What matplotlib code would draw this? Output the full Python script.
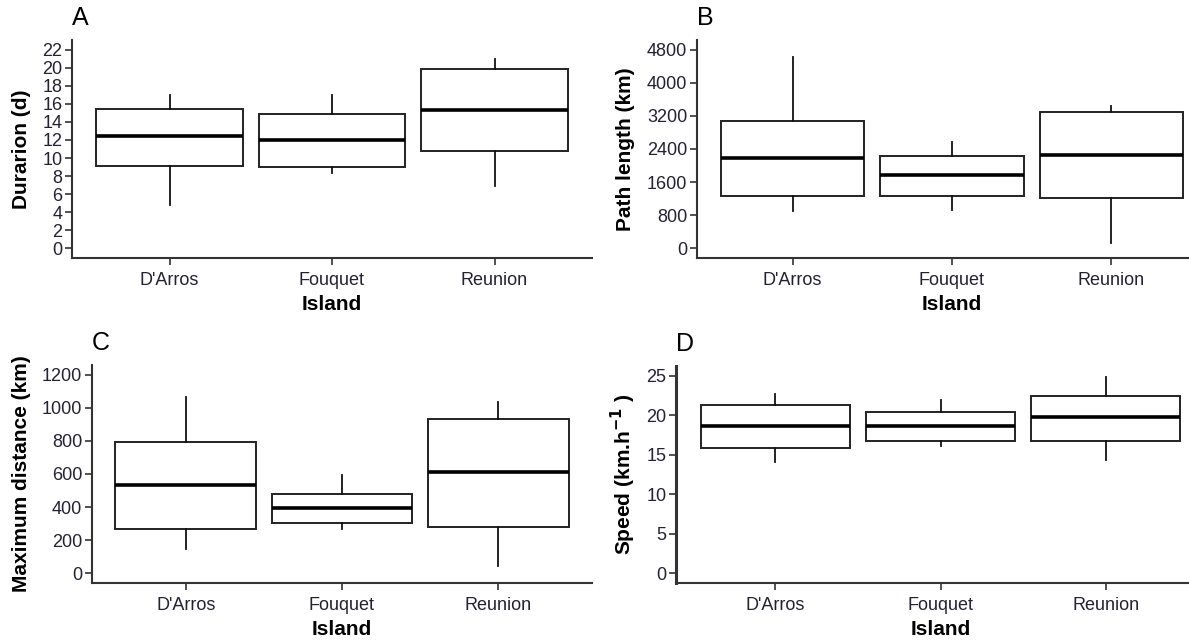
import matplotlib
matplotlib.use("Agg")
import matplotlib.pyplot as plt

islands = ["D'Arros", "Fouquet", "Reunion"]

# box stats per island: lower whisker, q1, median, q3, upper whisker
dur_lo = [4.75, 8.3, 6.85]
dur_q1 = [9.15, 9.0, 10.75]
dur_med = [12.45, 11.95, 15.35]
dur_q3 = [15.4, 14.85, 19.85]
dur_hi = [17.0, 17.0, 21.0]

path_lo = [890, 920, 130]
path_q1 = [1260, 1250, 1220]
path_med = [2190, 1765, 2255]
path_q3 = [3090, 2240, 3285]
path_hi = [4625, 2560, 3430]

dist_lo = [145, 268, 40]
dist_q1 = [266, 303, 282]
dist_med = [534, 393, 615]
dist_q3 = [791, 478, 934]
dist_hi = [1069, 595, 1033]

speed_lo = [14.1, 16.1, 14.3]
speed_q1 = [15.85, 16.8, 16.8]
speed_med = [18.7, 18.7, 19.8]
speed_q3 = [21.3, 20.45, 22.45]
speed_hi = [22.7, 21.95, 24.9]

W, H = 1189, 641
TXT = "#222233"
SPINE = "#333333"
TICK_FONT = ["Liberation Sans Narrow", "Liberation Sans", "DejaVu Sans"]
BOLD_FONT = ["Liberation Sans", "DejaVu Sans"]

fig = plt.figure(figsize=(W / 100, H / 100), dpi=100)


def px_axes(left, right, top, bottom):
    return fig.add_axes([left / W, (H - bottom) / H, (right - left) / W, (bottom - top) / H])


def panel(ax, lo, q1, med, q3, hi, ylim, ticks, ylabel, letter, ylab_x, letter_x=0.0):
    stats = []
    for i, name in enumerate(islands):
        stats.append(dict(label=name, whislo=lo[i], q1=q1[i], med=med[i],
                          q3=q3[i], whishi=hi[i], fliers=[]))
    ax.bxp(stats, positions=[1, 2, 3], widths=0.9, showcaps=False,
           patch_artist=True,
           boxprops=dict(facecolor="white", edgecolor="#222222", linewidth=1.4),
           medianprops=dict(color="black", linewidth=2.6),
           whiskerprops=dict(color="#111111", linewidth=1.3))
    ax.set_xlim(0.4, 3.6)
    pad = (ylim[1] - ylim[0]) * 0.05
    ax.set_ylim(ylim[0] - pad, ylim[1] + pad)
    ax.set_yticks(ticks)
    ax.set_xticks([1, 2, 3])
    ax.set_xticklabels(islands)
    for s in ["top", "right"]:
        ax.spines[s].set_visible(False)
    for s in ["left", "bottom"]:
        ax.spines[s].set_color(SPINE)
        ax.spines[s].set_linewidth(1.5)
    ax.tick_params(axis="both", direction="out", length=5, width=1.2, color=SPINE,
                   labelcolor=TXT, labelsize=13, pad=2)
    for lab in ax.get_xticklabels() + ax.get_yticklabels():
        lab.set_family(TICK_FONT)
    ax.tick_params(axis="x", pad=5)
    ax.set_xlabel("Island", fontsize=15, fontweight="bold", family=BOLD_FONT, va="center")
    ax.xaxis.set_label_coords(0.5, -0.215)
    ax.set_ylabel(ylabel, fontsize=15, fontweight="bold", family=BOLD_FONT, va="center")
    ax.yaxis.set_label_coords(ylab_x, 0.5)
    ax.text(letter_x, 1.1, letter, transform=ax.transAxes, fontsize=18,
            family=BOLD_FONT, va="center", ha="left", color="black")


axA = px_axes(72, 592, 40, 258)
panel(axA, dur_lo, dur_q1, dur_med, dur_q3, dur_hi, (0, 22), list(range(0, 23, 2)),
      "Durarion (d)", "A", -0.098)

axB = px_axes(697, 1207, 40, 258)
panel(axB, path_lo, path_q1, path_med, path_q3, path_hi, (0, 4800),
      list(range(0, 4801, 800)), "Path length (km)", "B", -0.141)

axC = px_axes(92, 592, 365, 583)
panel(axC, dist_lo, dist_q1, dist_med, dist_q3, dist_hi, (0, 1200),
      list(range(0, 1201, 200)), "Maximum distance (km)", "C", -0.142)

axD = px_axes(676, 1205, 366, 583)
panel(axD, speed_lo, speed_q1, speed_med, speed_q3, speed_hi, (0, 25),
      list(range(0, 26, 5)), r"Speed (km.h$^{\mathbf{-1}}$ )", "D", -0.10)
axD.spines["left"].set_linewidth(2.2)

fig.savefig("out.png", dpi=100, facecolor="white")
